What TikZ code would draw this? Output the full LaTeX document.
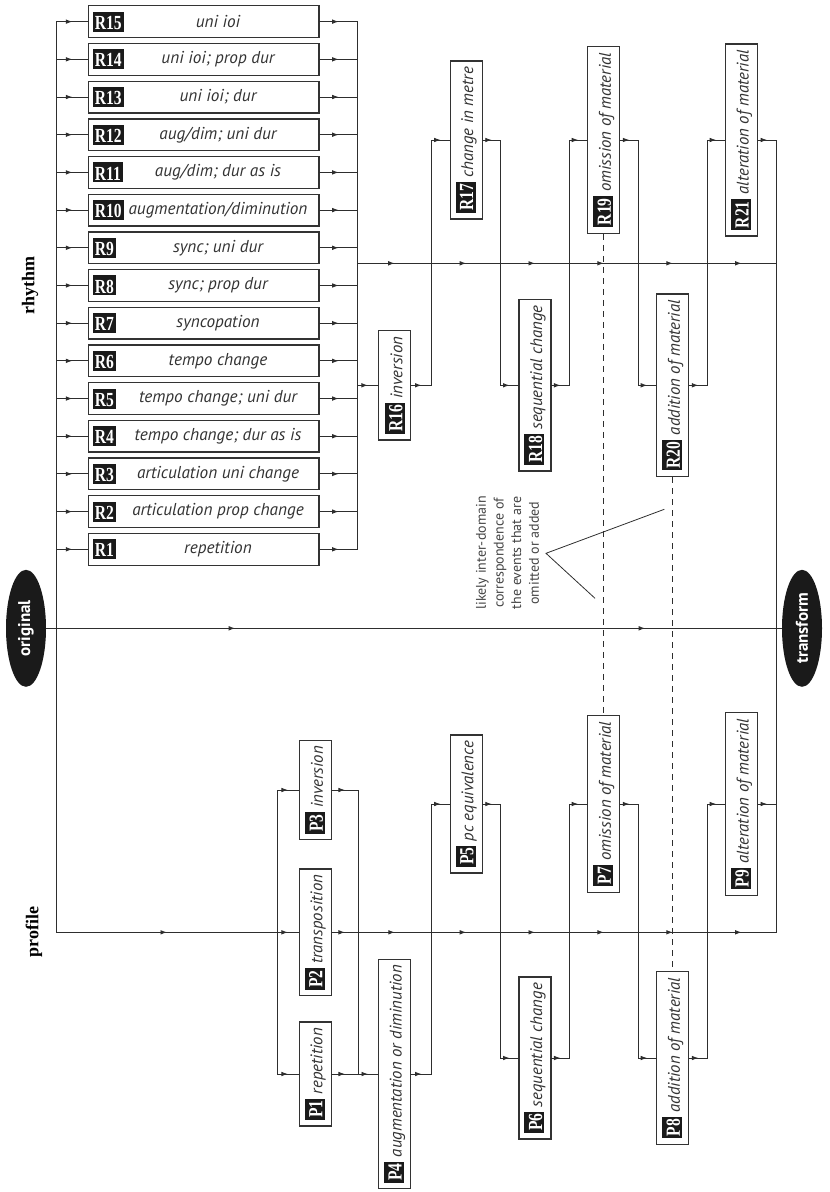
\documentclass[tikz,border=0pt]{standalone}
\usepackage{fontspec}
\usepackage{graphicx}
\setmainfont{Liberation Serif}
\newfontfamily\labfont{PT Sans}
\usetikzlibrary{arrows.meta,decorations.markings,shapes.geometric}
\definecolor{ln}{HTML}{2E2E2E}
\definecolor{bx}{HTML}{333333}
\definecolor{txt}{HTML}{333333}
\definecolor{tagblk}{HTML}{1A1A1A}
\definecolor{annot}{HTML}{444444}
\newcommand{\tagbox}[1]{{\normalfont\setlength{\fboxsep}{0pt}\colorbox{tagblk}{\hspace{2pt}\rule[-2.4pt]{0pt}{20pt}\textcolor{white}{\scalebox{0.78}[1]{\fontsize{20}{22}\selectfont\bfseries #1}}\hspace{2pt}}}}
\begin{document}
\begin{tikzpicture}[x=1pt,y=-1pt,
  conn/.style={draw=ln, line width=0.9pt, line cap=rect},
  midarrow/.style={postaction={decorate}, decoration={markings, mark=at position 0.5 with {\arrow{Latex[length=6.5pt,width=4.6pt]}}}},
  rbox/.style={draw=bx, line width=1.3pt, fill=white, minimum width=230.3pt, minimum height=31.7pt, inner sep=0pt},
  rtag/.style={inner sep=0pt},
  rlab/.style={inner sep=0pt, text=txt, font=\labfont\itshape\fontsize{17.2}{19}\selectfont},
  vbox/.style={draw=bx, line width=1.3pt, fill=white, rotate=90, minimum height=32pt, inner xsep=6pt, inner ysep=0pt, text=txt, font=\labfont\itshape\fontsize{16.8}{19}\selectfont},
  oval/.style={ellipse, fill=tagblk, rotate=90, minimum width=117pt, minimum height=40pt, inner sep=0pt, text=white, font=\labfont\bfseries\fontsize{17}{20}\selectfont},
  side/.style={rotate=90, inner sep=0pt, font=\bfseries\fontsize{18}{20}\selectfont}
]
\useasboundingbox (0,0) rectangle (830,1192);

% ---------- rhythm parallel boxes ----------
\foreach \i/\t in {1/{repetition}, 2/{articulation prop change}, 3/{articulation uni change}, 4/{tempo change; dur as is}, 5/{tempo change; uni dur}, 6/{tempo change}, 7/{syncopation}, 8/{sync; prop dur}, 9/{sync; uni dur}, 10/{augmentation/diminution}, 11/{aug/dim; dur as is}, 12/{aug/dim; uni dur}, 13/{uni ioi; dur}, 14/{uni ioi; prop dur}, 15/{uni ioi}}{
  \pgfmathsetmacro\yy{549.3-(\i-1)*37.69}
  \node[rbox] (r\i) at (203.85,\yy) {};
  \node[rtag, anchor=west] (r\i g) at ([xshift=4.6pt]r\i.west) {\tagbox{R\i}};
  \node[rlab] (r\i t) at (218,\yy) {\t};
  \coordinate (lb\i) at (56.7,\yy);
  \coordinate (rb\i) at (357.7,\yy);
  \draw[conn,midarrow] (lb\i) -- (r\i.west);
  \draw[conn,midarrow] (r\i.east) -- (rb\i);
}

% ---------- rotated boxes ----------
\node[vbox] (r16) at (394.7,385.3) {\tagbox{R16}\hspace{4.5pt}inversion};
\node[vbox] (r17) at (466.2,140) {\tagbox{R17}\hspace{4.5pt}change in metre};
\node[vbox] (r18) at (535,385.3) {\tagbox{R18}\hspace{4.5pt}sequential change};
\node[vbox] (r19) at (603.8,140) {\tagbox{R19}\hspace{4.5pt}omission of material};
\node[vbox] (r20) at (672.8,385.3) {\tagbox{R20}\hspace{4.5pt}addition of material};
\node[vbox] (r21) at (741.65,140) {\tagbox{R21}\hspace{4.5pt}alteration of material};

\node[vbox] (p1) at (315.3,1074) {\tagbox{P1}\hspace{4.5pt}repetition};
\node[vbox] (p2) at (315.3,932.3) {\tagbox{P2}\hspace{4.5pt}transposition};
\node[vbox] (p3) at (315.3,790) {\tagbox{P3}\hspace{4.5pt}inversion};
\node[vbox] (p4) at (394.7,1074) {\tagbox{P4}\hspace{4.5pt}augmentation or diminution};
\node[vbox] (p5) at (466.2,804) {\tagbox{P5}\hspace{4.5pt}pc equivalence};
\node[vbox] (p6) at (535,1058) {\tagbox{P6}\hspace{4.5pt}sequential change};
\node[vbox] (p7) at (603.8,804) {\tagbox{P7}\hspace{4.5pt}omission of material};
\node[vbox] (p8) at (672.8,1058) {\tagbox{P8}\hspace{4.5pt}addition of material};
\node[vbox] (p9) at (741.65,804) {\tagbox{P9}\hspace{4.5pt}alteration of material};

% ---------- ovals and side labels ----------
\node[oval] (orig) at (26,628.3) {original};
\node[oval] (trans) at (802,628.3) {transform};
\node[side] (rh) at (30,285) {rhythm};
\node[side] (pr) at (34,932) {profile};

\node[rotate=90, align=center, inner sep=0pt, text=annot, font=\labfont\fontsize{14}{17.7}\selectfont] (note) at (507.5,553) {likely inter-domain\\correspondence of\\the events that are\\omitted or added};

% ---------- coordinates ----------
\coordinate (ps) at (56.7,932.3);
\coordinate (pe) at (776,932.3);
\coordinate (ra0) at (357.7,263.3);
\coordinate (ra1) at (431.7,263.3);
\coordinate (ra2) at (500.7,263.3);
\coordinate (ra3) at (569.3,263.3);
\coordinate (ra4) at (638.3,263.3);
\coordinate (ra5) at (707.3,263.3);
\coordinate (ra6) at (776,263.3);
\coordinate (rin) at (357.7,385.3);
\coordinate (c1b) at (431.7,385.3);
\coordinate (c1t) at (431.7,140);
\coordinate (c2t) at (500.7,140);
\coordinate (c2b) at (500.7,385.3);
\coordinate (c3b) at (569.3,385.3);
\coordinate (c3t) at (569.3,140);
\coordinate (c4t) at (638.3,140);
\coordinate (c4b) at (638.3,385.3);
\coordinate (c5b) at (707.3,385.3);
\coordinate (c5t) at (707.3,140);
\coordinate (c6t) at (776,140);

\coordinate (pa1) at (277.3,932.3);
\coordinate (pa2) at (358,932.3);
\coordinate (pb1) at (431.7,932.3);
\coordinate (pb2) at (500.7,932.3);
\coordinate (pb3) at (569.3,932.3);
\coordinate (pb4) at (638.3,932.3);
\coordinate (pb5) at (707.3,932.3);
\coordinate (pl1) at (277.3,1074);
\coordinate (pl3) at (277.3,790);
\coordinate (pr1) at (358,1074);
\coordinate (pr3) at (358,790);
\coordinate (q1b) at (431.7,1074);
\coordinate (q1t) at (431.7,804);
\coordinate (q2t) at (500.7,804);
\coordinate (q2b) at (500.7,1058);
\coordinate (q3b) at (569.3,1058);
\coordinate (q3t) at (569.3,804);
\coordinate (q4t) at (638.3,804);
\coordinate (q4b) at (638.3,1058);
\coordinate (q5b) at (707.3,1058);
\coordinate (q5t) at (707.3,804);
\coordinate (q6t) at (776,804);

\coordinate (ap) at (546,553.3);
\coordinate (na1) at (664.3,509.3);
\coordinate (na2) at (595,598.3);

% ---------- buses ----------
\draw[conn] (lb15) -- (ps);
\draw[conn] (rb15) -- (rb1);
\draw[conn] (c6t) -- (pe);

% rhythm line
\draw[conn,midarrow] (ra0) -- (ra1);
\draw[conn,midarrow] (ra1) -- (ra2);
\draw[conn,midarrow] (ra2) -- (ra3);
\draw[conn,midarrow] (ra3) -- (ra4);
\draw[conn,midarrow] (ra4) -- (ra5);
\draw[conn,midarrow] (ra5) -- (ra6);

% rhythm chain
\draw[conn,midarrow] (rin) -- (r16.north);
\draw[conn,midarrow] (r16.south) -- (c1b);
\draw[conn] (c1b) -- (c1t);
\draw[conn,midarrow] (c1t) -- (r17.north);
\draw[conn,midarrow] (r17.south) -- (c2t);
\draw[conn] (c2t) -- (c2b);
\draw[conn,midarrow] (c2b) -- (r18.north);
\draw[conn,midarrow] (r18.south) -- (c3b);
\draw[conn] (c3b) -- (c3t);
\draw[conn,midarrow] (c3t) -- (r19.north);
\draw[conn,midarrow] (r19.south) -- (c4t);
\draw[conn] (c4t) -- (c4b);
\draw[conn,midarrow] (c4b) -- (r20.north);
\draw[conn,midarrow] (r20.south) -- (c5b);
\draw[conn] (c5b) -- (c5t);
\draw[conn,midarrow] (c5t) -- (r21.north);
\draw[conn,midarrow] (r21.south) -- (c6t);

% profile line
\draw[conn,midarrow] (ps) -- (pa1);
\draw[conn,midarrow] (pa1) -- (p2.north);
\draw[conn,midarrow] (p2.south) -- (pa2);
\draw[conn,midarrow] (pa2) -- (pb1);
\draw[conn,midarrow] (pb1) -- (pb2);
\draw[conn,midarrow] (pb2) -- (pb3);
\draw[conn,midarrow] (pb3) -- (pb4);
\draw[conn,midarrow] (pb4) -- (pb5);
\draw[conn,midarrow] (pb5) -- (pe);

% profile chain
\draw[conn] (pl3) -- (pl1);
\draw[conn] (pr3) -- (pr1);
\draw[conn,midarrow] (pl1) -- (p1.north);
\draw[conn,midarrow] (p1.south) -- (pr1);
\draw[conn,midarrow] (pl3) -- (p3.north);
\draw[conn,midarrow] (p3.south) -- (pr3);
\draw[conn,midarrow] (pr1) -- (p4.north);
\draw[conn,midarrow] (p4.south) -- (q1b);
\draw[conn] (q1b) -- (q1t);
\draw[conn,midarrow] (q1t) -- (p5.north);
\draw[conn,midarrow] (p5.south) -- (q2t);
\draw[conn] (q2t) -- (q2b);
\draw[conn,midarrow] (q2b) -- (p6.north);
\draw[conn,midarrow] (p6.south) -- (q3b);
\draw[conn] (q3b) -- (q3t);
\draw[conn,midarrow] (q3t) -- (p7.north);
\draw[conn,midarrow] (p7.south) -- (q4t);
\draw[conn] (q4t) -- (q4b);
\draw[conn,midarrow] (q4b) -- (p8.north);
\draw[conn,midarrow] (p8.south) -- (q5b);
\draw[conn] (q5b) -- (q5t);
\draw[conn,midarrow] (q5t) -- (p9.north);
\draw[conn,midarrow] (p9.south) -- (q6t);

% original line
\draw[conn, postaction={decorate}, decoration={markings,
    mark=at position 189pt with {\arrow{Latex[length=6.5pt,width=4.6pt]}},
    mark=at position 599pt with {\arrow{Latex[length=6.5pt,width=4.6pt]}}}]
  (orig.south) -- (trans.north);

% dashed correspondences
\draw[draw=ln, line width=0.9pt, dash pattern=on 6pt off 5pt] (r19.west) -- (p7.east);
\draw[draw=ln, line width=0.9pt, dash pattern=on 6pt off 5pt] (r20.west) -- (p8.east);

% annotation pointer
\draw[draw=ln, line width=0.8pt] (na1) -- (ap) -- (na2);
\end{tikzpicture}
\end{document}
